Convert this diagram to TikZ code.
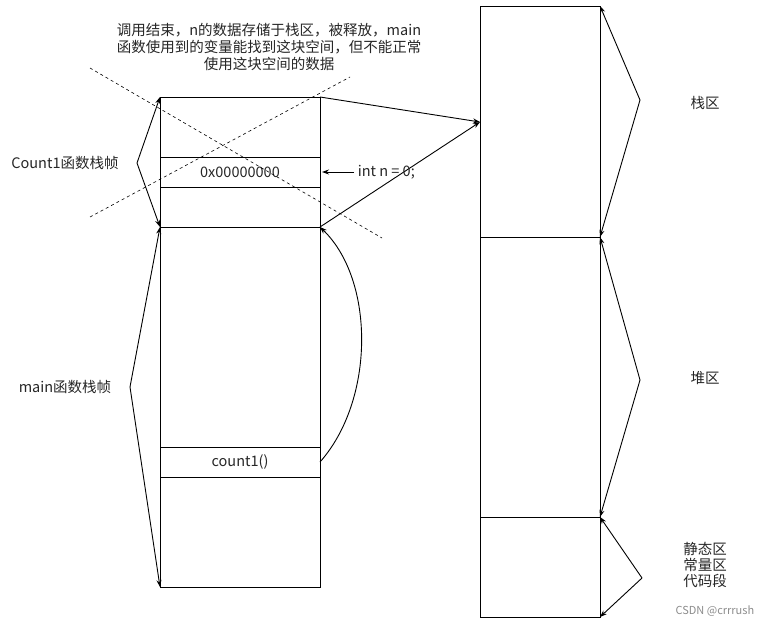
\documentclass[tikz,border=0pt]{standalone}
\usepackage{fontspec}
\setmainfont{Noto Sans CJK SC}
\usetikzlibrary{arrows.meta}
\begin{document}
\begin{tikzpicture}[x=1pt,y=-1pt,line width=0.9pt,
  arr/.style={-{Stealth[length=7pt,width=5pt]}},
  lbl/.style={font=\fontsize{14.5}{17}\selectfont,text=black!85,align=center}]
\useasboundingbox (0,0) rectangle (771,626);
% left stack
\draw (160,97) rectangle (320,587);
\foreach \y in {157,187,227,447,477} \draw (160,\y) -- (320,\y);
\node[lbl] (hex) at (240,172) {0x00000000};
\node[lbl] (call) at (240,462) {count1()};
\coordinate (ltop) at (160,97); \coordinate (lmid) at (160,227); \coordinate (lbot) at (160,587);
\coordinate (rtop) at (320,97); \coordinate (rmid) at (320,227); \coordinate (rcall) at (320,462);
% right column
\draw (480,6) rectangle (600,617);
\foreach \y in {237,517} \draw (480,\y) -- (600,\y);
\coordinate (a) at (600,6); \coordinate (b) at (600,237); \coordinate (c) at (600,517); \coordinate (d) at (600,617);
\coordinate (stk) at (480,122);
% dashed
\draw[dashed,line width=0.6pt] (90,68) -- (382,238);
\draw[dashed,line width=0.6pt] (90,217) -- (350,77);
% arrows
\draw[arr] (rtop) -- (stk);
\draw[arr] (rmid) -- (stk);
\draw[arr] (rcall) .. controls (375,400) and (375,280) .. (rmid);
\node[lbl,anchor=west] (intn) at (354,172) {int n = 0;};
\draw[arr] (intn.west) -- (322,172);
\node[lbl] (c1) at (65,163) {Count1函数栈帧};
\coordinate (c1p) at (137,163);
\draw[arr] (c1p) -- (ltop); \draw[arr] (c1p) -- (lmid);
\node[lbl] (mn) at (65,387) {main函数栈帧};
\coordinate (mnp) at (130,387);
\draw[arr] (mnp) -- (lmid); \draw[arr] (mnp) -- (lbot);
\coordinate (p1) at (640,100); \coordinate (p2) at (640,380); \coordinate (p3) at (642,578);
\draw[arr] (p1) -- (a); \draw[arr] (p1) -- (b);
\draw[arr] (p2) -- (b); \draw[arr] (p2) -- (c);
\draw[arr] (p3) -- (c); \draw[arr] (p3) -- (d);
\node[lbl] (s1) at (705,103) {栈区};
\node[lbl] (s2) at (705,378) {堆区};
\node[lbl] (s3) at (705,565) {静态区\\[-1pt]常量区\\[-1pt]代码段};
\node[lbl] (top) at (269,47) {调用结束，n的数据存储于栈区，被释放，main\\函数使用到的变量能找到这块空间，但不能正常\\使用这块空间的数据};
\node[font=\fontsize{11}{13}\selectfont,text=black!45,anchor=east] (wm) at (758,611) {CSDN @crrrush};
\end{tikzpicture}
\end{document}
